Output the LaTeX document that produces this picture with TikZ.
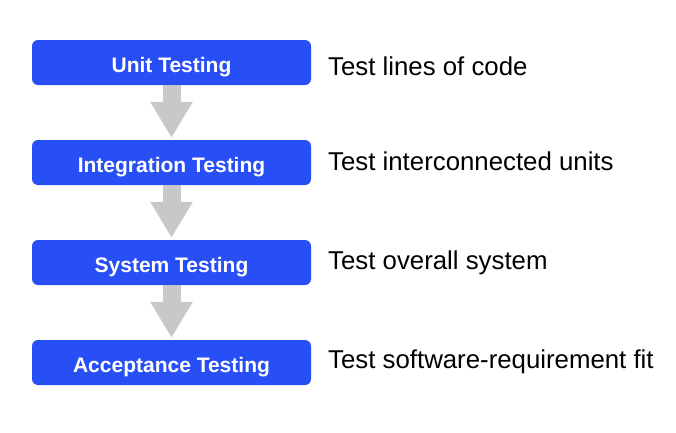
\documentclass[tikz,border=0pt]{standalone}
\usepackage{fontspec}
\setmainfont{Liberation Sans}
\usetikzlibrary{arrows.meta}
\definecolor{boxblue}{RGB}{40,78,245}
\definecolor{arrowgray}{RGB}{200,200,200}
\begin{document}
\begin{tikzpicture}[x=1pt,y=-1pt,
  stagebox/.style={fill=boxblue, draw=none, rounded corners=6pt, minimum width=279pt, minimum height=45pt, text=white, font=\fontsize{21}{25}\selectfont\bfseries, inner sep=0pt, text height=20pt, text depth=0pt},
  desc/.style={anchor=west, font=\fontsize{25.8}{30}\selectfont, text=black, inner sep=0pt},
  flow/.style={draw=arrowgray, line width=18pt, -{Triangle[width=40pt,length=36pt]}, shorten >=2pt}]
\useasboundingbox (0,0) rectangle (676,432);
\node[stagebox] (u) at (171.5,62.5) {Unit Testing};
\node[stagebox] (i) at (171.5,162.5) {Integration Testing};
\node[stagebox] (s) at (171.5,262.5) {System Testing};
\node[stagebox] (a) at (171.5,362.5) {Acceptance Testing};
\node[desc] (du) at (328,66) {Test lines of code};
\node[desc] (di) at (328,161) {Test interconnected units};
\node[desc] (ds) at (328,263) {Test overall system};
\node[desc] (da) at (328,362) {Test software-requirement fit};
\draw[flow] (u.south) -- (i.north);
\draw[flow] (i.south) -- (s.north);
\draw[flow] (s.south) -- (a.north);
\end{tikzpicture}
\end{document}
